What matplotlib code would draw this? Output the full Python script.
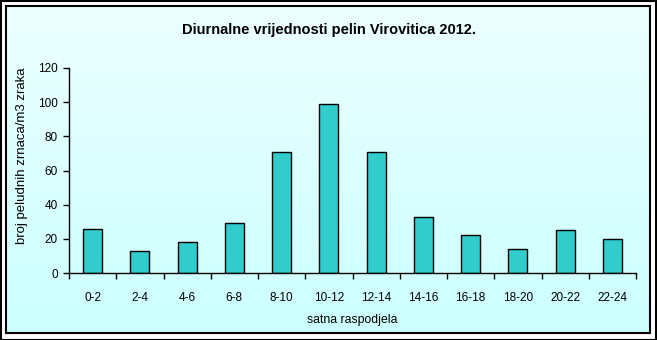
import matplotlib
matplotlib.use("Agg")
import matplotlib.pyplot as plt
import numpy as np
from matplotlib.patches import Rectangle

categories = ["0-2", "2-4", "4-6", "6-8", "8-10", "10-12", "12-14", "14-16", "16-18", "18-20", "20-22", "22-24"]
values = [26, 13, 18, 29, 71, 99, 71, 33, 22, 14, 25, 20]
yticks = [0, 20, 40, 60, 80, 100, 120]
title = "Diurnalne vrijednosti pelin Virovitica 2012."
xlabel = "satna raspodjela"
ylabel = "broj peludnih zrnaca/m3 zraka"

plt.rcParams['font.family'] = ['Liberation Sans', 'DejaVu Sans']

W, H = 657, 340
fig = plt.figure(figsize=(W / 100, H / 100), dpi=100)
fig.patch.set_facecolor("white")

# background gradient panel (inner chart area)
x0, y0, x1, y1 = 6, 6, 650, 333
bg = fig.add_axes([x0 / W, 1 - y1 / H, (x1 - x0) / W, (y1 - y0) / H], zorder=0)
grad = np.linspace(0, 1, 256).reshape(-1, 1)
top = np.array([0.93, 1.0, 1.0])
bot = np.array([0.80, 1.0, 1.0])
img = top[None, None, :] * (1 - grad[:, :, None]) + bot[None, None, :] * grad[:, :, None]
bg.imshow(img, aspect="auto", extent=[0, 1, 0, 1])
bg.set_xticks([]); bg.set_yticks([])
for s in bg.spines.values():
    s.set_linewidth(1.5)
    s.set_color("black")

# outer border
fig.add_artist(Rectangle((0.5 / W, 0.5 / H), (W - 1.5) / W, (H - 1.5) / H,
                         transform=fig.transFigure, fill=False, edgecolor="black", linewidth=1.5))

ax_l, ax_r, ax_b, ax_t = 69, 636, 273, 68
ax = fig.add_axes([ax_l / W, 1 - ax_b / H, (ax_r - ax_l) / W, (ax_b - ax_t) / H], zorder=1)
ax.patch.set_alpha(0)
x = np.arange(len(categories))
ax.bar(x, values, width=0.4, color="#33CCCC", edgecolor="black", linewidth=1.0)
ax.set_xlim(-0.5, len(categories) - 0.5)
ax.set_ylim(0, 120)
ax.set_yticks(yticks)
ax.set_yticklabels([str(v) for v in yticks], fontsize=8.5)
ax.set_xticks(x)
ax.set_xticklabels(categories, fontsize=8.5)
ax.tick_params(axis="x", length=0, pad=14)
ax.set_xticks(np.arange(-0.5, len(categories)), minor=True)
ax.tick_params(axis="x", which="minor", length=4, width=1, direction="out")
ax.tick_params(axis="y", length=4, width=1, direction="out", pad=4)
for s in ["top", "right"]:
    ax.spines[s].set_visible(False)
for s in ["left", "bottom"]:
    ax.spines[s].set_linewidth(1)
ax.set_xlabel(xlabel, fontsize=8.8, labelpad=7)
ax.set_ylabel(ylabel, fontsize=9.5, labelpad=8)
ax.yaxis.set_label_coords(-0.072, 0.57)

fig.text(0.5, 1 - 30 / H, title, ha="center", va="center", fontsize=10.5, fontweight="bold")

fig.savefig("out.png", dpi=100)
